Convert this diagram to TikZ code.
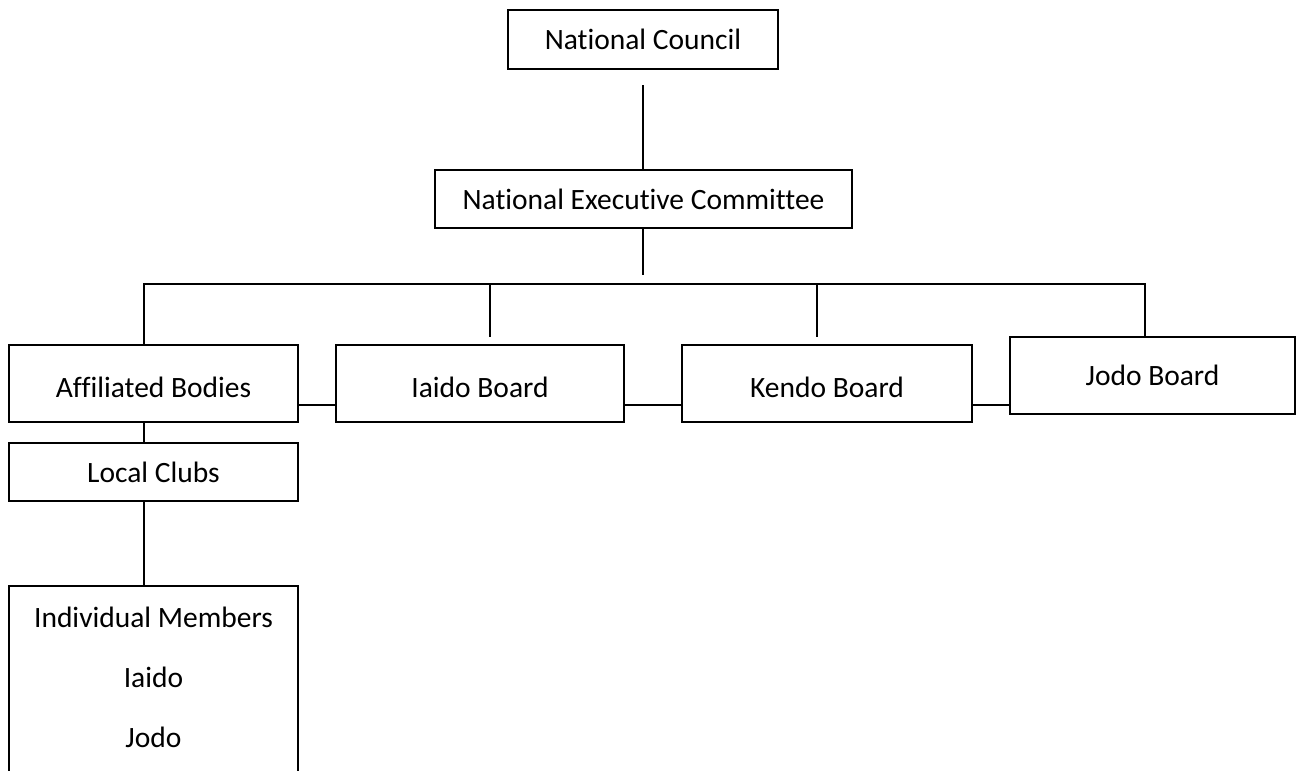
\documentclass[tikz,border=0pt]{standalone}
\usepackage{fontspec}
\setmainfont{Carlito}[Ligatures={NoCommon}]
\newcommand{\lowtxt}[1]{\raisebox{-4pt}[\height][\depth]{#1}}
\begin{document}
\begin{tikzpicture}[x=1pt,y=-1pt,
  box/.style={draw=black,line width=2pt,rectangle,inner sep=0pt,font=\fontsize{29.5}{34}\selectfont},
  lbl/.style={inner sep=0pt,font=\fontsize{29.5}{34}\selectfont},
  conn/.style={line width=2pt,black}]
\useasboundingbox (0,0) rectangle (1296,771);
% boxes
\node[box,minimum width=270pt,minimum height=59pt] (nc) at (643,39.5) {National Council};
\node[box,minimum width=417pt,minimum height=58pt] (nec) at (643.5,199) {National Executive Committee};
\node[box,minimum width=289pt,minimum height=77pt] (aff) at (153.5,383.5) {\lowtxt{Affiliated Bodies}};
\node[box,minimum width=288pt,minimum height=77pt] (iai) at (480,383.5) {\lowtxt{Iaido Board}};
\node[box,minimum width=290pt,minimum height=77pt] (ken) at (827,383.5) {\lowtxt{Kendo Board}};
\node[box,minimum width=285pt,minimum height=77pt] (jod) at (1152.5,375.5) {Jodo Board};
\node[box,minimum width=289pt,minimum height=58pt] (loc) at (153.5,472) {Local Clubs};
% individual members (open at the bottom)
\coordinate (imtl) at (9,586);
\coordinate (imtr) at (298,586);
\coordinate (imbl) at (9,775);
\coordinate (imbr) at (298,775);
\draw[conn] (imbl) -- (imtl) -- (imtr) -- (imbr);
\node[lbl] (im1) at (153.5,617) {Individual Members};
\node[lbl] (im2) at (153.5,677) {Iaido};
\node[lbl] (im3) at (153.5,737) {Jodo};
% coordinates
\coordinate (ncA) at (643,85);
\coordinate (necB) at (643,275);
\coordinate (busL) at (144,284);
\coordinate (busR) at (1145,284);
\coordinate (bI) at (490,284);
\coordinate (bK) at (817,284);
\coordinate (eI) at (490,337);
\coordinate (eK) at (817,337);
\coordinate (yH) at (0,405);
\coordinate (xA) at (144,0);
% connectors
\draw[conn] (ncA) -- (nec.north -| ncA);
\draw[conn] (nec.south -| necB) -- (necB);
\draw[conn] (aff.north -| busL) -- (busL) -- (busR) -- (jod.north -| busR);
\draw[conn] (bI) -- (eI);
\draw[conn] (bK) -- (eK);
\draw[conn] (aff.east |- yH) -- (iai.west |- yH);
\draw[conn] (iai.east |- yH) -- (ken.west |- yH);
\draw[conn] (ken.east |- yH) -- (jod.west |- yH);
\draw[conn] (aff.south -| xA) -- (loc.north -| xA);
\draw[conn] (loc.south -| xA) -- (imtl -| xA);
\end{tikzpicture}
\end{document}
